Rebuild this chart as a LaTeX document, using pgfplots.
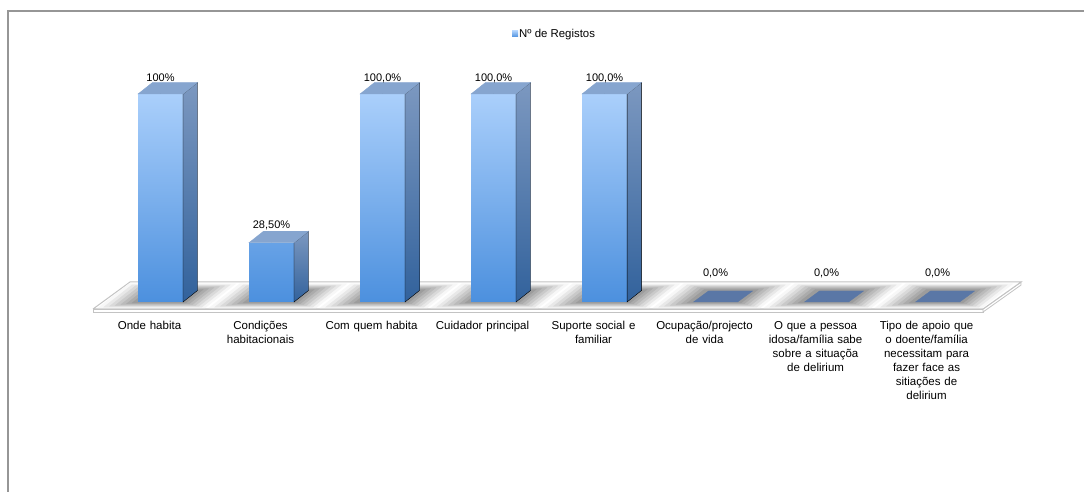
\documentclass[border=0pt]{standalone}
\usepackage{fontspec}
\setmainfont{Liberation Sans}
\usepackage{pgfplots}
\pgfplotsset{compat=1.18}
\usepackage{pgfplotstable}

\definecolor{fronttop}{RGB}{170,207,251}
\definecolor{frontbot}{RGB}{76,144,222}
\definecolor{sidetop}{RGB}{124,152,192}
\definecolor{sidebot}{RGB}{50,98,156}
\definecolor{topface}{RGB}{134,165,207}
\definecolor{flatface}{RGB}{90,119,166}
\definecolor{bordergray}{RGB}{150,150,150}
\definecolor{floorline}{RGB}{195,195,195}

\pgfplotstableread{
x val lbl off
0 100 100 12
1 28.5 28,50 14
2 100 100,0 12
3 100 100,0 12
4 100 100,0 12
5 0 0,0 25
6 0 0,0 25
7 0 0,0 25
}\datatable

\begin{document}
\begin{tikzpicture}
\begin{axis}[
  set layers,
  at={(0pt,0pt)}, anchor=south west,
  scale only axis, width=1084pt, height=492pt,
  xmin=-1.44595, xmax=8.31982, ymin=-91.346, ymax=145.192,
  axis line style={draw=none},
  ytick=\empty,
  xtick={0,...,7},
  major tick length=0pt,
  xticklabels={Onde habita, {Condições\\habitacionais}, Com quem habita, Cuidador principal, {Suporte social e\\familiar}, {Ocupação/projecto\\de vida}, {O que a pessoa\\idosa/família sabe\\sobre a situaçõa\\de delirium}, {Tipo de apoio que\\o doente/família\\necessitam para\\fazer face as\\sitiações de\\delirium}},
  xticklabel style={anchor=north, inner sep=0pt, yshift=171pt, xshift=-11pt, text width=125pt, align=center, font=\fontsize{11.5}{14}\selectfont},
  clip=false,
  legend style={at={(0.4723,0.9309)}, anchor=west, draw=none, fill=none, inner sep=0pt, font=\fontsize{11.4}{13}\selectfont, nodes={inner sep=1pt}},
]
% floor slab
\addplot[on layer=axis background, fill=white, draw=floorline, line width=0.8pt, forget plot] coordinates {(-0.6081,-3.365) (7.4099,-3.365) (7.4099,-4.808) (-0.6081,-4.808) (-0.6081,-3.365)};
\addplot[on layer=axis background, fill=white, draw=floorline, line width=0.8pt, forget plot] coordinates {(7.4099,-3.365) (7.7523,9.615) (7.7523,8.173) (7.4099,-4.808) (7.4099,-3.365)};
% floor top
\addplot[on layer=axis background, fill=white, draw=floorline, line width=1pt, forget plot] coordinates {(-0.6081,-3.365) (7.4099,-3.365) (7.7523,9.615) (-0.2748,9.615) (-0.6081,-3.365)};
% shadows (nested soft fills around each bar foot)
\addplot[on layer=axis grid, mark layer=axis grid, only marks, mark=*, mark size=0pt, scatter, forget plot,
  scatter/@pre marker code/.code={%
    \foreach \k in {7,6,...,1}{%
      \pgfmathsetmacro\L{-22.5-4.6*\k}%
      \pgfmathsetmacro\R{22.5+4.2*\k}%
      \pgfmathsetmacro\a{-0.85*\k}%
      \pgfmathsetmacro\b{11.5+0.95*\k}%
      \pgfmathsetmacro\g{3+(7-\k)*6}%
      \fill[black!\g!white] ({(\L+1.27*\a)*1pt},{\a*1pt}) -- ({(\R+1.27*\a)*1pt},{\a*1pt}) -- ({(\R+1.27*\b)*1pt},{\b*1pt}) -- ({(\L+1.27*\b)*1pt},{\b*1pt}) -- cycle;%
    }%
  },
  scatter/@post marker code/.code={}] table[x=x, y expr=0] {\datatable};
% front faces
\addplot[on layer=main, ybar, bar width=45pt, bar shift=0pt, draw=none, top color=fronttop, bottom color=frontbot,
  y filter/.expression={y==0 ? nan : y}, unbounded coords=discard,
  legend image code/.code={\fill[fronttop!60!frontbot] (0pt,-3pt) rectangle (6pt,3pt);}] table[x=x, y=val] {\datatable};
\addlegendentry{Nº de Registos}
% side and top faces
\addplot[on layer=main, mark layer=main, only marks, mark=*, mark size=0pt, scatter, forget plot,
  visualization depends on={\thisrow{val} \as \h},
  scatter/@pre marker code/.code={%
    \pgfmathsetmacro\hh{\h*2.08}%
    \ifdim\hh pt>0.5pt
      \shade[top color=sidetop, bottom color=sidebot] (22.5pt,0pt) -- (37pt,11.5pt) -- (37pt,{(11.5-\hh)*1pt}) -- (22.5pt,{-\hh*1pt}) -- cycle;
      \fill[topface] (-22.5pt,0pt) -- (22.5pt,0pt) -- (37pt,11.5pt) -- (-8pt,11.5pt) -- cycle;
    \else
      \fill[flatface] (-22pt,0pt) -- (22pt,0pt) -- (37pt,11pt) -- (-7pt,11pt) -- cycle;
    \fi
  },
  scatter/@post marker code/.code={}] table[x=x, y=val] {\datatable};
% value labels
\addplot[draw=none, mark=none, forget plot, point meta=explicit symbolic,
  nodes near coords={\pgfplotspointmeta\%},
  every node near coord/.append style={anchor=base, inner sep=0pt, font=\fontsize{11}{13}\selectfont}] table[x=x, y expr=\thisrow{val}+\thisrow{off}/2.08, meta=lbl] {\datatable};
\end{axis}
\draw[bordergray, line width=1.2pt] (8pt,0pt) -- (8pt,481pt) -- (1084pt,481pt);
\pgfresetboundingbox
\useasboundingbox (0pt,0pt) rectangle (1084pt,492pt);
\end{tikzpicture}
\end{document}
